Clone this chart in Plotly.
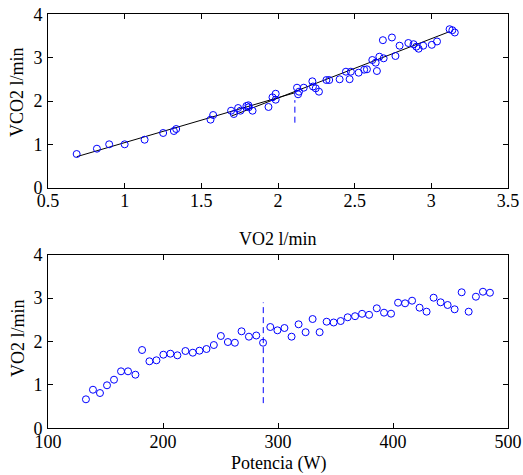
import plotly.graph_objects as go

# ---- Top panel: VCO2 vs VO2 ----
vo2_top = [0.687, 0.819, 0.899, 1.000, 1.130, 1.251, 1.321, 1.336, 1.560, 1.577,
           1.694, 1.712, 1.740, 1.755, 1.794, 1.807, 1.809, 1.834, 1.938, 1.964,
           1.985, 1.985, 2.124, 2.131, 2.137, 2.168, 2.224, 2.228, 2.246, 2.267,
           2.316, 2.334, 2.402, 2.443, 2.467, 2.475, 2.526, 2.562, 2.580, 2.615,
           2.637, 2.645, 2.661, 2.689, 2.684, 2.743, 2.766, 2.793, 2.850, 2.884,
           2.902, 2.917, 2.947, 3.003, 3.037, 3.119, 3.137, 3.153]
vco2_top = [0.777, 0.900, 1.001, 1.001, 1.107, 1.262, 1.308, 1.354, 1.569, 1.677,
            1.776, 1.700, 1.838, 1.776, 1.885, 1.901, 1.855, 1.776, 1.862, 2.085,
            2.168, 2.030, 2.307, 2.155, 2.215, 2.307, 2.454, 2.334, 2.293, 2.215,
            2.484, 2.484, 2.501, 2.676, 2.503, 2.676, 2.653, 2.722, 2.731, 2.946,
            2.884, 2.692, 3.022, 2.985, 3.403, 3.465, 3.038, 3.276, 3.338, 3.310,
            3.253, 3.206, 3.276, 3.296, 3.373, 3.656, 3.633, 3.580]
fit1_x = [0.687, 2.11]
fit1_y = [0.715, 2.19]
fit2_x = [1.697, 3.118]
fit2_y = [1.654, 3.599]
thr_top_x = [2.11, 2.11]
thr_top_y = [1.50, 2.02]

# ---- Bottom panel: VO2 vs Power ----
power = [133.0, 139.1, 145.2, 151.3, 157.4, 163.5, 169.6, 176.0, 181.8, 188.2,
         194.3, 200.3, 206.4, 212.5, 219.5, 225.9, 231.7, 237.8, 244.2, 250.3,
         256.4, 262.5, 268.3, 274.7, 281.1, 287.0, 293.3, 299.5, 305.6, 311.8,
         317.9, 324.0, 330.1, 336.2, 342.3, 348.4, 354.5, 360.6, 367.0, 373.1,
         379.2, 385.9, 392.2, 398.3, 404.4, 410.5, 416.6, 423.1, 429.2, 435.3,
         441.4, 447.5, 453.6, 459.7, 465.8, 472.1, 478.2, 484.3]
vo2_bot = [0.668, 0.889, 0.813, 0.991, 1.120, 1.313, 1.313, 1.235, 1.804, 1.544,
           1.567, 1.696, 1.719, 1.682, 1.781, 1.742, 1.788, 1.827, 1.919, 2.127,
           1.988, 1.972, 2.235, 2.111, 2.138, 1.972, 2.334, 2.258, 2.311, 2.111,
           2.396, 2.214, 2.518, 2.214, 2.456, 2.438, 2.472, 2.558, 2.583, 2.638,
           2.615, 2.765, 2.664, 2.641, 2.894, 2.880, 2.940, 2.779, 2.687, 3.009,
           2.903, 2.841, 2.742, 3.134, 2.687, 3.032, 3.147, 3.124]
thr_bot_x = [287.2, 287.2]
thr_bot_y = [0.58, 2.90]

top_xticks = [0.5, 1, 1.5, 2, 2.5, 3, 3.5]
top_xtext = ["0.5", "1", "1.5", "2", "2.5", "3", "3.5"]
bot_xticks = [100, 200, 300, 400, 500]
yticks = [0, 1, 2, 3, 4]

W, H = 523, 475
FONT = "Liberation Serif, Times New Roman, serif"
BLUE = "#0000FF"


def fx(px):
    return px / W


def fy(py):
    return 1 - py / H


fig = go.Figure()
marker = dict(symbol="circle-open", size=7, color=BLUE, line=dict(width=1, color=BLUE))

fig.add_trace(go.Scatter(x=fit1_x, y=fit1_y, mode="lines", line=dict(color="black", width=1),
                         xaxis="x", yaxis="y", showlegend=False))
fig.add_trace(go.Scatter(x=fit2_x, y=fit2_y, mode="lines", line=dict(color="black", width=1),
                         xaxis="x", yaxis="y", showlegend=False))
fig.add_trace(go.Scatter(x=vo2_top, y=vco2_top, mode="markers", marker=marker,
                         xaxis="x", yaxis="y", showlegend=False))
fig.add_trace(go.Scatter(x=thr_top_x, y=thr_top_y, mode="lines",
                         line=dict(color=BLUE, width=1, dash="6px,4px"),
                         xaxis="x", yaxis="y", showlegend=False))

fig.add_trace(go.Scatter(x=power, y=vo2_bot, mode="markers", marker=marker,
                         xaxis="x2", yaxis="y2", showlegend=False))
fig.add_trace(go.Scatter(x=thr_bot_x, y=thr_bot_y, mode="lines",
                         line=dict(color=BLUE, width=1, dash="6px,4px"),
                         xaxis="x2", yaxis="y2", showlegend=False))

axis_common = dict(showline=True, linecolor="black", linewidth=1, mirror="ticks",
                   ticks="inside", ticklen=5, tickcolor="black", tickwidth=1,
                   showgrid=False, zeroline=False, automargin=False,
                   tickfont=dict(family=FONT, size=18, color="black"))

xd = [fx(48), fx(508)]
fig.update_layout(
    width=W, height=H,
    margin=dict(l=0, r=0, t=0, b=0, autoexpand=False),
    paper_bgcolor="white", plot_bgcolor="white",
    font=dict(family=FONT, size=18, color="black"),
    xaxis=dict(domain=xd, range=[0.5, 3.5], tickvals=top_xticks, ticktext=top_xtext,
               anchor="y", ticklabelstandoff=-3, **axis_common),
    yaxis=dict(domain=[fy(187.7), fy(14.3)], range=[0, 4], tickvals=yticks,
               anchor="x", ticklabelstandoff=1, **axis_common),
    xaxis2=dict(domain=xd, range=[100, 500], tickvals=bot_xticks,
                anchor="y2", ticklabelstandoff=-3, **axis_common),
    yaxis2=dict(domain=[fy(428.3), fy(254.7)], range=[0, 4], tickvals=yticks,
                anchor="x2", ticklabelstandoff=1, **axis_common),
    annotations=[
        dict(text="VO2 l/min", x=fx(278), y=fy(239), xref="paper", yref="paper",
             showarrow=False, xanchor="center", yanchor="middle",
             font=dict(family=FONT, size=18, color="black")),
        dict(text="Potencia (W)", x=fx(278), y=fy(463), xref="paper", yref="paper",
             showarrow=False, xanchor="center", yanchor="middle",
             font=dict(family=FONT, size=18, color="black")),
        dict(text="VCO2 l/min", x=fx(17), y=fy(92), xref="paper", yref="paper",
             showarrow=False, xanchor="center", yanchor="middle", textangle=-90,
             font=dict(family=FONT, size=18, color="black")),
        dict(text="VO2 l/min", x=fx(18), y=fy(338), xref="paper", yref="paper",
             showarrow=False, xanchor="center", yanchor="middle", textangle=-90,
             font=dict(family=FONT, size=18, color="black")),
    ],
)

fig.write_html("out.html",
               config={"displayModeBar": False},
               post_script="document.body.style.margin='0';document.body.style.padding='0';")
